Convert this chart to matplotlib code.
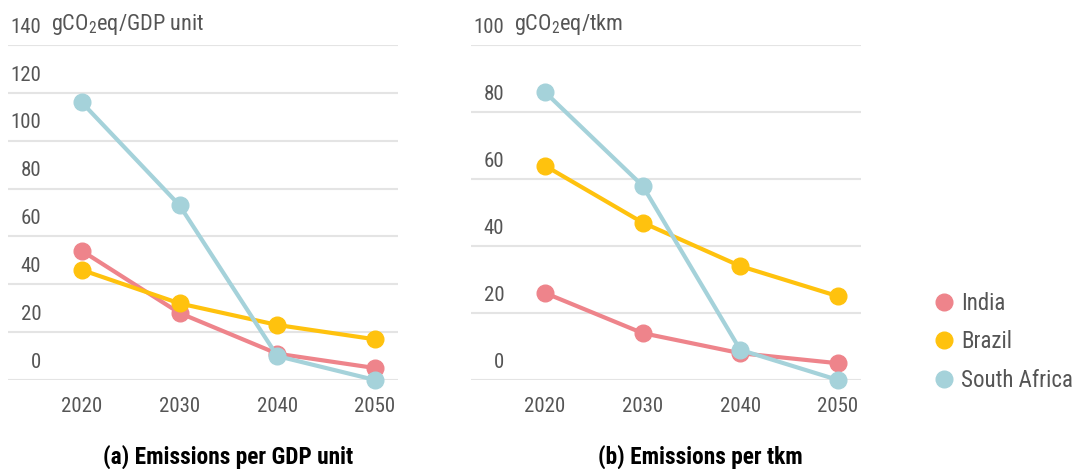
import matplotlib
matplotlib.use("Agg")
import matplotlib.pyplot as plt
from matplotlib import font_manager
from matplotlib.lines import Line2D

# narrow sans for the labels, whichever one is installed
installed = {f.name for f in font_manager.fontManager.ttflist}
narrow = next((n for n in ['Roboto Condensed', 'Archivo Narrow', 'Asap Condensed',
                           'Liberation Sans Narrow'] if n in installed), 'Roboto')
plt.rcParams['font.family'] = [narrow, 'DejaVu Sans']
plt.rcParams['mathtext.fontset'] = 'custom'
plt.rcParams['mathtext.rm'] = narrow

years = [2020, 2030, 2040, 2050]
countries = ['India', 'Brazil', 'South Africa']
colors = ['#EE848B', '#FFC20E', '#A5D2DA']

# emissions per GDP unit (gCO2eq/GDP unit)
gdp_india = [54, 28, 11, 5]
gdp_brazil = [46, 32, 23, 17]
gdp_safrica = [116, 73, 10, 0]
gdp_ticks = [0, 20, 40, 60, 80, 100, 120, 140]

# emissions per tkm (gCO2eq/tkm)
tkm_india = [26, 14, 8, 5]
tkm_brazil = [64, 47, 34, 25]
tkm_safrica = [86, 58, 9, 0]
tkm_ticks = [0, 20, 40, 60, 80, 100]

W, H = 1075, 469
fig = plt.figure(figsize=(W / 100, H / 100), dpi=100)
fig.patch.set_facecolor('white')

TXT = '#555555'
FS = 15


def panel(x0, x1, series, ticks, unit, title, title_x):
    ax = fig.add_axes([x0 / W, (H - 380) / H, (x1 - x0) / W, 335 / H])
    for vals, c in zip(series, colors):
        ax.plot(years, vals, color=c, lw=3, marker='o', ms=12,
                mec=c, clip_on=False, zorder=3)
    ax.set_xlim(2012.45, 2052.35)
    ax.set_ylim(ticks[0], ticks[-1])
    ax.set_xticks(years)
    ax.set_yticks(ticks)
    ax.grid(axis='y', color='#e4e4e4', lw=1.5)
    ax.set_axisbelow(True)
    for s in ax.spines.values():
        s.set_visible(False)
    ax.tick_params(axis='x', length=0, pad=12, labelsize=FS, labelcolor=TXT)
    ax.tick_params(axis='y', length=0, labelleft=False)
    # value labels sit just above their gridline
    for t in ticks:
        ax.annotate(str(t), xy=(0, t), xycoords=('axes fraction', 'data'),
                    xytext=(24, 6), textcoords='offset points',
                    ha='right', va='bottom', fontsize=FS, color=TXT)
    ax.annotate(unit, xy=(0, ticks[-1]), xycoords=('axes fraction', 'data'),
                xytext=(31, 6), textcoords='offset points',
                ha='left', va='bottom', fontsize=16, color=TXT)
    fig.text(title_x / W, 1 - 457 / H, title, ha='center', va='center',
             fontsize=16.8, fontweight='bold', color='black')
    return ax


panel(8, 398, [gdp_india, gdp_brazil, gdp_safrica], gdp_ticks,
      'gCO$_2$eq/GDP unit', '(a) Emissions per GDP unit', 228)
panel(471, 861, [tkm_india, tkm_brazil, tkm_safrica], tkm_ticks,
      'gCO$_2$eq/tkm', '(b) Emissions per tkm', 700)

handles = [Line2D([], [], ls='none', marker='o', ms=12, color=c) for c in colors]
leg = fig.legend(handles, countries, loc='center left',
                 bbox_to_anchor=(922 / W, 1 - 342 / H), frameon=False,
                 fontsize=16.5, handletextpad=0.2, labelspacing=0.68,
                 handlelength=1.1, borderaxespad=0)
for t in leg.get_texts():
    t.set_color(TXT)

fig.savefig('out.png', dpi=100)
